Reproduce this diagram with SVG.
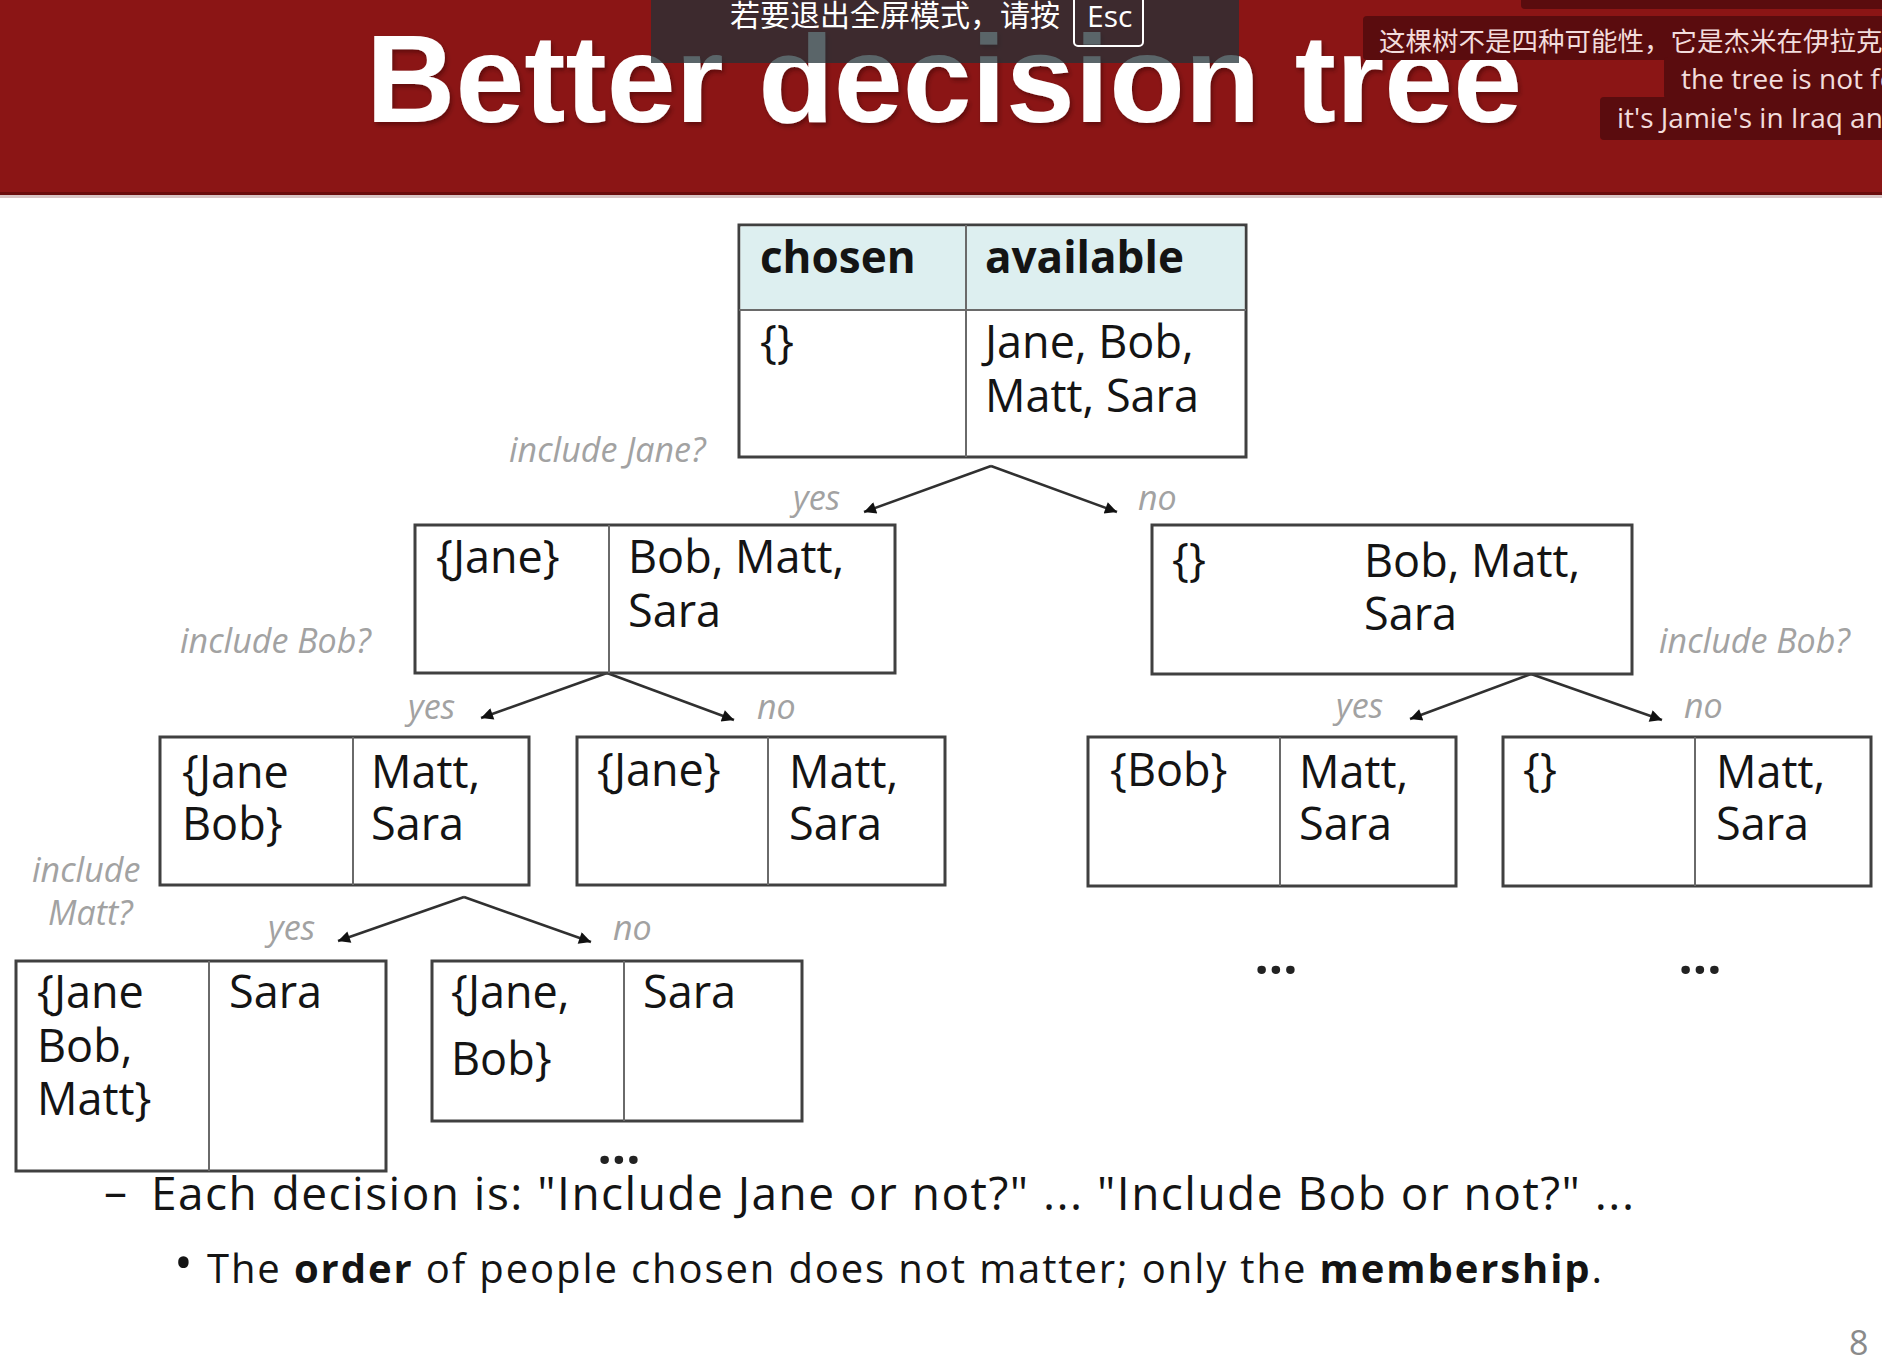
<svg xmlns="http://www.w3.org/2000/svg" width="1882" height="1359" viewBox="0 0 1882 1359">
  <defs>
    <style>
      .box { fill: #ffffff; stroke: #404040; stroke-width: 3; }
      .div { stroke: #6a6a6a; stroke-width: 2; fill: none; }
      .t { font-family: "Open Sans", "Liberation Sans", sans-serif; font-size: 45px; fill: #141414; }
      .th { font-family: "Open Sans", "Liberation Sans", sans-serif; font-size: 44px; font-weight: bold; fill: #141414; }
      .lbl { font-family: "Open Sans", "Liberation Sans", sans-serif; font-style: italic; font-size: 34px; fill: #a2a2a2; }
      .edge { stroke: #303030; stroke-width: 2.5; fill: none; marker-end: url(#ah); }
      .sub { font-family: "Open Sans", "Noto Sans CJK SC", sans-serif; font-size: 28px; fill: #f2dcdc; }
      .subcjk { font-family: "Noto Sans CJK SC", sans-serif; font-size: 26.5px; fill: #f2dcdc; }
      .subbox { fill: #5a0c0e; }
      .body { font-family: "Open Sans", "Liberation Sans", sans-serif; fill: #141414; }
      .dots { font-family: "Open Sans", "Liberation Sans", sans-serif; font-size: 50px; font-weight: bold; fill: #222; text-anchor: middle; }
    </style>
    <marker id="ah" viewBox="0 0 10 10" refX="10" refY="5" markerWidth="15" markerHeight="12" markerUnits="userSpaceOnUse" orient="auto">
      <path d="M0,0 L10,5 L0,10 z" fill="#111"/>
    </marker>
    <filter id="shadow" x="-5%" y="-20%" width="110%" height="140%">
      <feDropShadow dx="2" dy="3" stdDeviation="2" flood-color="#2a0000" flood-opacity="0.45"/>
    </filter>
  </defs>

  <!-- page background -->
  <rect x="0" y="0" width="1882" height="1359" fill="#ffffff"/>

  <!-- title band -->
  <g id="header">
    <rect x="0" y="0" width="1882" height="192" fill="#8b1515"/>
    <rect x="0" y="192" width="1882" height="3" fill="#6a0c0c"/>
    <rect x="0" y="195" width="1882" height="3" fill="#d8c4c4"/>
    <text x="366" y="122" font-family="'Liberation Sans', Arial, sans-serif" font-size="124" font-weight="bold" fill="#ffffff" textLength="1156" lengthAdjust="spacingAndGlyphs" filter="url(#shadow)">Better decision tree</text>
  </g>

  <!-- full-screen notice -->
  <g id="notice">
    <rect x="651" y="0" width="588" height="63" fill="#233137" fill-opacity="0.75"/>
    <text x="730" y="26" font-family="'Noto Sans CJK SC', sans-serif" font-size="30" fill="#ffffff">若要退出全屏模式，请按</text>
    <rect x="1074" y="-4" width="69" height="50" rx="4" fill="none" stroke="#ffffff" stroke-width="2"/>
    <text x="1087" y="27" font-family="'Open Sans', sans-serif" font-size="30" fill="#ffffff">Esc</text>
  </g>

  <!-- captions -->
  <g id="captions">
    <rect class="subbox" x="1521" y="-6" width="380" height="15" rx="4"/>
    <rect class="subbox" x="1363" y="16" width="540" height="44" rx="4"/>
    <text class="subcjk" x="1379" y="51">这棵树不是四种可能性，它是杰米在伊拉克</text>
    <rect class="subbox" x="1664" y="57" width="240" height="42" rx="4"/>
    <text class="sub" x="1681" y="89">the tree is not fo</text>
    <rect class="subbox" x="1600" y="97" width="300" height="43" rx="4"/>
    <text class="sub" x="1617" y="128">it's Jamie's in Iraq and</text>
  </g>

  <!-- connectors -->
  <g id="connectors">
    <line class="edge" x1="991" y1="466" x2="864" y2="512"/>
    <line class="edge" x1="991" y1="466" x2="1117" y2="512"/>
    <line class="edge" x1="607" y1="673" x2="481" y2="718"/>
    <line class="edge" x1="607" y1="673" x2="734" y2="720"/>
    <line class="edge" x1="1531" y1="674" x2="1410" y2="719"/>
    <line class="edge" x1="1531" y1="674" x2="1662" y2="720"/>
    <line class="edge" x1="464" y1="897" x2="338" y2="941"/>
    <line class="edge" x1="464" y1="897" x2="591" y2="942"/>
  </g>

  <!-- edge labels -->
  <g id="labels">
    <text class="lbl" x="509" y="462">include Jane?</text>
    <text class="lbl" x="793" y="510">yes</text>
    <text class="lbl" x="1138" y="510">no</text>
    <text class="lbl" x="180" y="653">include Bob?</text>
    <text class="lbl" x="408" y="719">yes</text>
    <text class="lbl" x="757" y="719">no</text>
    <text class="lbl" x="1659" y="653">include Bob?</text>
    <text class="lbl" x="1336" y="718">yes</text>
    <text class="lbl" x="1684" y="718">no</text>
    <text class="lbl" x="32" y="882">include</text>
    <text class="lbl" x="48" y="925">Matt?</text>
    <text class="lbl" x="268" y="940">yes</text>
    <text class="lbl" x="613" y="940">no</text>
  </g>

  <!-- root: nothing chosen yet -->
  <g id="root">
    <rect class="box" x="739" y="225" width="507" height="232"/>
    <rect x="740.5" y="226.5" width="504" height="83.5" fill="#ddeff0"/>
    <line class="div" x1="739" y1="310" x2="1246" y2="310"/>
    <line class="div" x1="966" y1="225" x2="966" y2="457"/>
    <text class="th" x="760" y="273">chosen</text>
    <text class="th" x="985" y="273">available</text>
    <text class="t" x="760" y="358">{}</text>
    <text class="t" x="985" y="358">Jane, Bob,</text>
    <text class="t" x="985" y="412">Matt, Sara</text>
  </g>

  <!-- level 1 -->
  <g id="node-jane">
    <rect class="box" x="415" y="525" width="480" height="148"/>
    <line class="div" x1="609" y1="525" x2="609" y2="673"/>
    <text class="t" x="436" y="573">{Jane}</text>
    <text class="t" x="628" y="573">Bob, Matt,</text>
    <text class="t" x="628" y="627">Sara</text>
  </g>
  <g id="node-none">
    <rect class="box" x="1152" y="525" width="480" height="149"/>
    <text class="t" x="1172" y="576">{}</text>
    <text class="t" x="1364" y="577">Bob, Matt,</text>
    <text class="t" x="1364" y="630">Sara</text>
  </g>

  <!-- level 2 -->
  <g id="node-jane-bob">
    <rect class="box" x="160" y="737" width="369" height="148"/>
    <line class="div" x1="353" y1="737" x2="353" y2="885"/>
    <text class="t" x="182" y="788">{Jane</text>
    <text class="t" x="182" y="840">Bob}</text>
    <text class="t" x="371" y="788">Matt,</text>
    <text class="t" x="371" y="840">Sara</text>
  </g>
  <g id="node-jane-only">
    <rect class="box" x="577" y="737" width="368" height="148"/>
    <line class="div" x1="768" y1="737" x2="768" y2="885"/>
    <text class="t" x="597" y="786">{Jane}</text>
    <text class="t" x="789" y="788">Matt,</text>
    <text class="t" x="789" y="840">Sara</text>
  </g>
  <g id="node-bob">
    <rect class="box" x="1088" y="737" width="368" height="149"/>
    <line class="div" x1="1280" y1="737" x2="1280" y2="886"/>
    <text class="t" x="1110" y="786">{Bob}</text>
    <text class="t" x="1299" y="788">Matt,</text>
    <text class="t" x="1299" y="840">Sara</text>
  </g>
  <g id="node-empty">
    <rect class="box" x="1503" y="737" width="368" height="149"/>
    <line class="div" x1="1695" y1="737" x2="1695" y2="886"/>
    <text class="t" x="1523" y="786">{}</text>
    <text class="t" x="1716" y="788">Matt,</text>
    <text class="t" x="1716" y="840">Sara</text>
  </g>

  <!-- level 3 -->
  <g id="node-jane-bob-matt">
    <rect class="box" x="16" y="961" width="370" height="210"/>
    <line class="div" x1="209" y1="961" x2="209" y2="1171"/>
    <text class="t" x="37" y="1008">{Jane</text>
    <text class="t" x="37" y="1062">Bob,</text>
    <text class="t" x="37" y="1115">Matt}</text>
    <text class="t" x="229" y="1008">Sara</text>
  </g>
  <g id="node-jane-bob-2">
    <rect class="box" x="432" y="961" width="370" height="160"/>
    <line class="div" x1="624" y1="961" x2="624" y2="1121"/>
    <text class="t" x="451" y="1008">{Jane,</text>
    <text class="t" x="451" y="1075">Bob}</text>
    <text class="t" x="643" y="1008">Sara</text>
  </g>

  <!-- continuation marks -->
  <text class="dots" x="1276" y="974">...</text>
  <text class="dots" x="1700" y="974">...</text>
  <text class="dots" x="619" y="1164">...</text>

  <!-- notes -->
  <g id="notes">
    <text class="body" x="104" y="1208" font-size="46">–</text>
    <text class="body" x="151" y="1210" font-size="46" textLength="1483">Each decision is: "Include Jane or not?" ... "Include Bob or not?" ...</text>
    <text class="body" x="174" y="1280" font-size="50">•</text>
    <text class="body" x="207" y="1283" font-size="40" textLength="1395">The <tspan font-weight="bold">order</tspan> of people chosen does not matter; only the <tspan font-weight="bold">membership</tspan>.</text>
  </g>

  <!-- slide number -->
  <text x="1849" y="1355" font-family="'Open Sans', sans-serif" font-size="34" fill="#8a8a8a">8</text>
</svg>
